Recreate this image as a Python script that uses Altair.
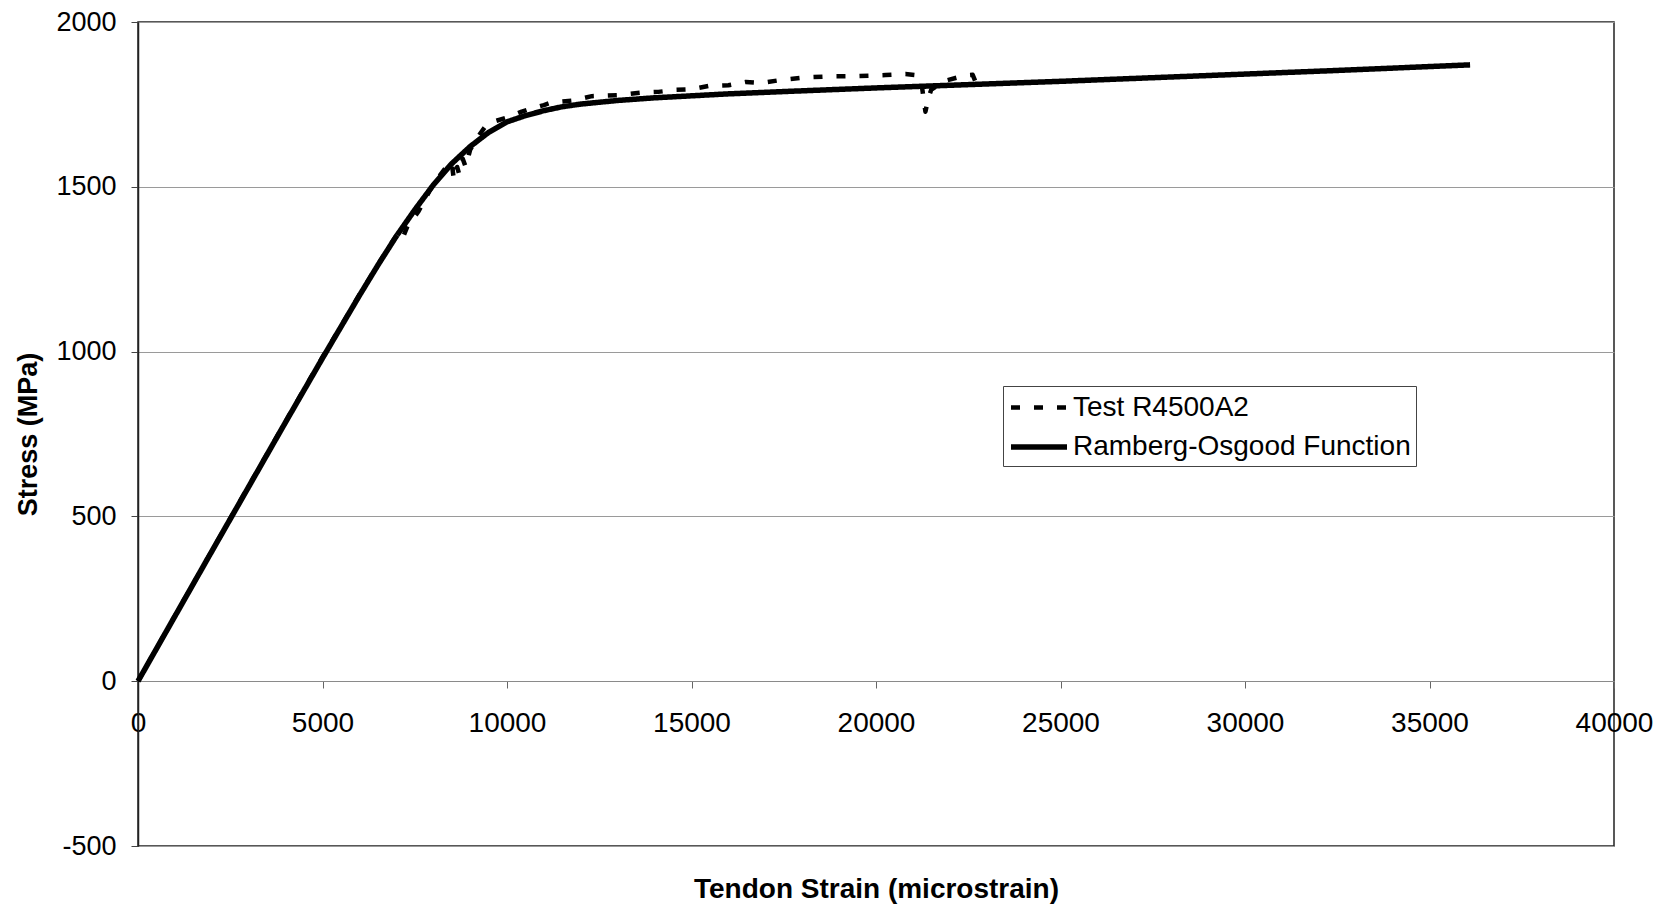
import altair as alt
import pandas as pd

# ---- data ----
series_names = ["Test R4500A2", "Ramberg-Osgood Function"]

ro_strain = [0, 1000, 2000, 3000, 4000, 5000, 6000, 6500, 7000, 7500, 8000, 8500,
             9000, 9500, 10000, 10500, 11000, 11500, 12000, 13000, 14000, 15000,
             16000, 17500, 20000, 22500, 25000, 27500, 30000, 32500, 36100]
ro_stress = [0, 197, 394, 590, 786, 980, 1170, 1262, 1350, 1430, 1505, 1570,
             1622, 1665, 1697, 1716, 1731, 1743, 1751, 1762, 1770, 1776,
             1782, 1789, 1800, 1810, 1820, 1831, 1842, 1853, 1870]

test_strain = [0, 1000, 2000, 3000, 4000, 5000, 6000, 6800, 7100, 7200, 7300, 7600,
               8000, 8300, 8500, 8560, 8650, 8700, 8800, 8880, 9000, 9200, 9420,
               9700, 10050, 10400, 10670, 11000, 11210, 11800, 12300, 13000, 13650,
               14100, 14570, 15000, 15460, 16000, 16470, 16900, 17360, 18090, 18790,
               19530, 20260, 20800, 21150, 21250, 21340, 21420, 21500, 21880, 22420,
               22620, 22780]
test_stress = [0, 198, 395, 592, 788, 983, 1172, 1318, 1368, 1352, 1380, 1425,
               1508, 1552, 1575, 1522, 1560, 1540, 1585, 1560, 1612, 1650, 1684,
               1700, 1712, 1728, 1738, 1748, 1756, 1762, 1775, 1778, 1786,
               1788, 1794, 1796, 1806, 1808, 1818, 1815, 1823, 1832, 1835,
               1836, 1839, 1842, 1838, 1800, 1728, 1770, 1795, 1822, 1838,
               1840, 1795]

x_ticks = [0, 5000, 10000, 15000, 20000, 25000, 30000, 35000, 40000]
y_ticks = [-500, 0, 500, 1000, 1500, 2000]

rows = []
for i, (s, v) in enumerate(zip(test_strain, test_stress)):
    rows.append({"strain": s, "stress": v, "series": series_names[0], "idx": i})
for i, (s, v) in enumerate(zip(ro_strain, ro_stress)):
    rows.append({"strain": s, "stress": v, "series": series_names[1], "idx": i})
df = pd.DataFrame(rows)

FONT = "Liberation Sans"
W, H = 1476, 824

x_enc = alt.X(
    "strain:Q",
    scale=alt.Scale(domain=[0, 40000], nice=False, zero=False),
    axis=alt.Axis(
        values=x_ticks,
        title="Tendon Strain (microstrain)",
        offset=-165,
        grid=False,
        domainColor="#8a8a8a",
        domainWidth=1,
        tickColor="#666666",
        tickSize=7,
        labelPadding=21,
        labelFontSize=28,
        labelColor="#000000",
        labelFont=FONT,
        labelFlush=False,
        labelOverlap=False,
        labelExpr="'' + datum.value",
        titleFont=FONT,
        titleFontSize=28,
        titleFontWeight="bold",
        titleColor="#000000",
        titleX=W / 2,
        titleY=208,
        titleAlign="center",
        titleBaseline="middle",
    ),
)

y_enc = alt.Y(
    "stress:Q",
    scale=alt.Scale(domain=[-500, 2000], nice=False, zero=False),
    axis=alt.Axis(
        values=y_ticks,
        title="Stress (MPa)",
        grid=True,
        gridColor="#9a9a9a",
        gridWidth=1,
        domainColor="#222222",
        domainWidth=1.5,
        tickColor="#444444",
        tickSize=7,
        labelPadding=15,
        labelFontSize=27,
        labelColor="#000000",
        labelFont=FONT,
        labelFlush=False,
        labelOverlap=False,
        labelExpr="'' + datum.value",
        titleFont=FONT,
        titleFontSize=27,
        titleFontWeight="bold",
        titleColor="#000000",
        titleAngle=270,
        titleX=-110,
        titleY=H / 2,
        titleAlign="center",
        titleBaseline="middle",
    ),
)

chart = (
    alt.Chart(df)
    .mark_line(color="#000000", strokeCap="butt", strokeJoin="round")
    .encode(
        x=x_enc,
        y=y_enc,
        strokeDash=alt.StrokeDash(
            "series:N",
            scale=alt.Scale(domain=series_names, range=[[9, 14], [1, 0]]),
            legend=alt.Legend(
                title=None,
                orient="none",
                legendX=865,
                legendY=364,
                strokeColor="#444444",
                padding=5,
                symbolType="M-1,0H3",
                symbolSize=784,
                symbolStrokeColor="#000000",
                labelFont=FONT,
                labelFontSize=28,
                labelColor="#000000",
                labelOffset=31,
                rowPadding=8,
                labelLimit=600,
            ),
        ),
        strokeWidth=alt.StrokeWidth(
            "series:N",
            scale=alt.Scale(domain=series_names, range=[4.5, 5.5]),
            legend=alt.Legend(title=None),
        ),
        order=alt.Order("idx:Q"),
    )
    .properties(
        width=W,
        height=H,
        autosize=alt.AutoSizeParams(type="none"),
        padding={"left": 130, "top": 14, "right": 40, "bottom": 60},
        background="#ffffff",
    )
    .configure_view(stroke="#222222", strokeWidth=1.5)
)

chart.save("out.html", embed_options={"renderer": "svg", "actions": False})
